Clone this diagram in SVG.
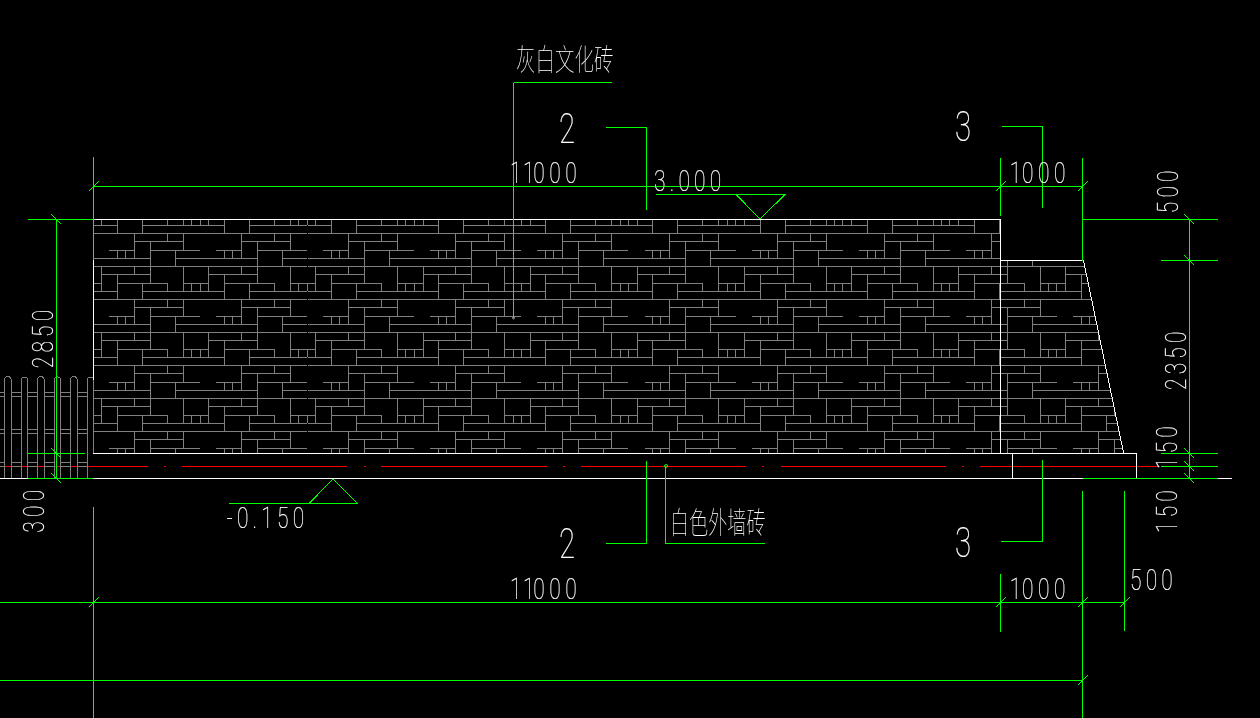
<svg xmlns="http://www.w3.org/2000/svg" xmlns:xlink="http://www.w3.org/1999/xlink" width="1260" height="718" viewBox="0 0 1260 718">
<style>
.g{fill:none;stroke:#00ff00;stroke-width:1;shape-rendering:crispEdges}
.w{fill:none;stroke:#fff;stroke-width:1;shape-rendering:crispEdges}
.b{fill:none;stroke:#808080;stroke-width:1;shape-rendering:crispEdges}
.r{fill:none;stroke:#ff0000;stroke-width:1;shape-rendering:crispEdges}
.n{font-family:Roboto,"Liberation Sans",sans-serif;font-weight:100;font-size:30px;letter-spacing:6px;fill:#fff;stroke:#fff;stroke-width:.25}
.s{font-family:Roboto,"Liberation Sans",sans-serif;font-weight:100;font-size:42px;fill:#fff;stroke:#fff;stroke-width:.25}
.c{font-family:"Noto Sans CJK SC","Liberation Sans",sans-serif;font-weight:100;font-size:19.5px;fill:#fff}
</style>
<defs>
<path id="tile" class="b" d="M0 0H107M41 8H90M15.67 17H41M57 17H106.67M0 25H57M82 25H107M0 33H107M8.33 41H57M0 50H8.33M24 50H74M90 50H107M0 58H24M49 58H107M41 0V25M74 0V8M90 0V17M57 8V50M24 17V25M24 41V66M32 17V25M82 17V33M8.33 33V58M41 33V41M90 33V58M49 50V66M74 50V58M98.33 50V58M106.67 50V58"/>
<g id="row">
<use xlink:href="#tile" href="#tile" x="0"/><use xlink:href="#tile" href="#tile" x="107.12"/><use xlink:href="#tile" href="#tile" x="214.24"/><use xlink:href="#tile" href="#tile" x="321.36"/><use xlink:href="#tile" href="#tile" x="428.48"/><use xlink:href="#tile" href="#tile" x="535.6"/><use xlink:href="#tile" href="#tile" x="642.72"/><use xlink:href="#tile" href="#tile" x="749.84"/><use xlink:href="#tile" href="#tile" x="856.96"/><use xlink:href="#tile" href="#tile" x="964.08"/>
</g>
<clipPath id="wallclip"><polygon points="93,219 1001,219 1001,260 1083.3,260 1123.7,453.3 93,453.3"/></clipPath>
</defs>
<rect width="1260" height="718" fill="#000"/>
<g id="wall-bricks" clip-path="url(#wallclip)">
<use xlink:href="#row" href="#row" x="93.33" y="167.33"/><use xlink:href="#row" href="#row" x="93.33" y="233.33"/><use xlink:href="#row" href="#row" x="93.33" y="299.33"/><use xlink:href="#row" href="#row" x="93.33" y="365.33"/><use xlink:href="#row" href="#row" x="93.33" y="431.33"/>
</g>
<g id="centre-line"><path class="r" d="M5 466.5H11.5M22 466.5H27.5M38 466.5H44.5M55 466.5H61M71 466.5H77.5M88 466.5H148M164 466.5H166M182 466.5H347M364 466.5H366M381 466.5H547M563 466.5H565M581 466.5H746M762 466.5H764M781 466.5H946M962 466.5H964M980 466.5H1160"/></g>
<g id="fence">
<path class="b" d="M4.5 478.5V380a3.3 3.3 0 0 1 6.6 0V478.5M21.5 478.5V380a3 3 0 0 1 6 0V478.5M37.5 478.5V380a3.3 3.3 0 0 1 6.6 0V478.5M54.5 478.5V380a3.1 3.1 0 0 1 6.2 0V478.5M70.5 478.5V380a3.3 3.3 0 0 1 6.6 0V478.5M87.5 478.5V380a3 3 0 0 1 6 0V453"/>
<path class="b" d="M0 392.5H4.5M11 392.5H21.5M27.5 392.5H37.5M44 392.5H54.5M60.5 392.5H70.5M77 392.5H87.5M0 396.5H4.5M11 396.5H21.5M27.5 396.5H37.5M44 396.5H54.5M60.5 396.5H70.5M77 396.5H87.5M0 429.5H4.5M11 429.5H21.5M27.5 429.5H37.5M44 429.5H54.5M60.5 429.5H70.5M77 429.5H87.5M0 433.5H4.5M11 433.5H21.5M27.5 433.5H37.5M44 433.5H54.5M60.5 433.5H70.5M77 433.5H87.5M0 462.5H4.5M11 462.5H21.5M27.5 462.5H37.5M44 462.5H54.5M60.5 462.5H70.5M77 462.5H87.5M0 466.5H4.5M11 466.5H21.5M27.5 466.5H37.5M44 466.5H54.5M60.5 466.5H70.5M77 466.5H87.5"/>
</g>
<g id="wall-outline">
<path class="w" d="M93.5 219.5H1000.5V453M93.5 260V380M1000.5 260.5H1083.5M1083.5 260.5L1123.7 453.5M93 453.5H1136.5V478M1012.5 453.5V478M0 478.5H1232"/>
</g>
<g id="connectors">
<path class="g" d="M93.5 157V260M1000.5 158V216M1082.5 158V260.5M93 186.5H1082.5M28 219.5H93M1082.5 219.5H1218"/>
<path class="g" d="M56.5 219.5V478.5M28 453.5H85M28 478.5H93M1189.5 219.5V478.5M1161 260.5H1218M1161 453.5H1218M1161 466.5H1218M1083 478.5H1218"/>
<path class="g" d="M513.5 82.5H612M513.5 82.5V318M606 127.5H646.5V209.5M1002 126.5H1042.5V207.5"/>
<path class="g" d="M646.5 461V543.5H606M1042.5 460V541.5H1001M665.5 466V543.5H765"/>
<path class="g" d="M0 602.5H1124.5M0 680.5H1082.5M93.5 507V718M1000.5 574V631.5M1082.5 491V718M1124.5 491V630.5"/>
<path class="g" d="M656 194.5H785L760 219L736 194.5M229 503.5H357.5L333 479L309 503.5"/>
<path class="g" d="M88.5 191.5L98.5 181.5M995.5 191.5L1005.5 181.5M1077.5 191.5L1087.5 181.5M88.5 607.5L98.5 597.5M995.5 607.5L1005.5 597.5M1077.5 607.5L1087.5 597.5M1119.5 607.5L1129.5 597.5M1077.5 685.5L1087.5 675.5"/>
<path class="g" d="M51.5 214.5L61.5 224.5M51.5 448.5L61.5 458.5M51.5 473.5L61.5 483.5M1184.5 214.5L1194.5 224.5M1184.5 255.5L1194.5 265.5M1184.5 448.5L1194.5 458.5M1184.5 461.5L1194.5 471.5M1184.5 473.5L1194.5 483.5"/>
<circle cx="666" cy="466" r="1.5" fill="none" stroke="#00ff00" stroke-width="1"/>
<circle cx="513.5" cy="318" r="1" fill="none" stroke="#a0a0a0" stroke-width="1"/>
</g>
<g id="labels" opacity=".999">
<text class="c" transform="translate(516,70) scale(1,1.5)">灰白文化砖</text>
<text class="c" transform="translate(670,533) scale(.98,1.5)">白色外墙砖</text>
<text class="s" transform="translate(559,143.3) scale(.7,1)">2</text>
<text class="s" transform="translate(559,557.7) scale(.7,1)">2</text>
<text class="s" transform="translate(955,140.7) scale(.7,1)">3</text>
<text class="s" transform="translate(955,556.7) scale(.7,1)">3</text>
<text class="n" transform="translate(500,183.3) scale(.7,1)" x="14.2 32.9 47.5 70.4 93.2">11000</text>
<text class="n" transform="translate(500,599) scale(.7,1)" x="14.2 32.9 47.5 70.4 93.2">11000</text>
<text class="n" transform="translate(1000,183.3) scale(.7,1)" x="13.9 31.4 54.3 77.1">1000</text>
<text class="n" transform="translate(1000,599) scale(.7,1)" x="13.9 31.4 54.3 77.1">1000</text>
<text class="n" transform="translate(1130,590) scale(.7,1)">500</text>
<text class="n" transform="translate(654,191) scale(.7,1)">3.000</text>
<text class="n" transform="translate(226.5,528) scale(.7,1)">-0.150</text>
<text class="n" transform="translate(1178,213.3) rotate(-90) scale(.7,1)">500</text>
<text class="n" transform="translate(53.3,368.3) rotate(-90) scale(.7,1)">2850</text>
<text class="n" transform="translate(44,532.7) rotate(-90) scale(.7,1)">300</text>
<text class="n" transform="translate(1186,390) rotate(-90) scale(.7,1)">2350</text>
<text class="n" transform="translate(1177.3,469) rotate(-90) scale(.7,1)">150</text>
<text class="n" transform="translate(1177.3,533) rotate(-90) scale(.7,1)">150</text>
</g>
</svg>
